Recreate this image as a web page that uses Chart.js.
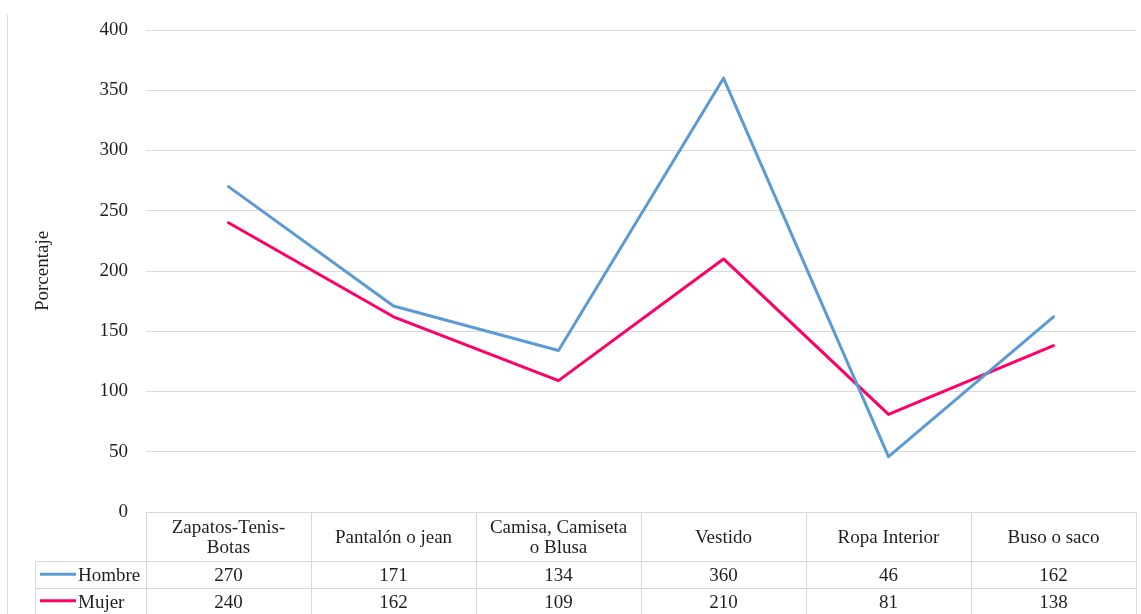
<!DOCTYPE html>
<html>
<head>
<meta charset="utf-8">
<title>Prendas por género</title>
<script src="https://cdn.jsdelivr.net/npm/chart.js@4/dist/chart.umd.min.js"></script>
<style>
  html, body { margin: 0; padding: 0; background: #fff; }
  #wrap { width: 1141px; height: 614px; }
</style>
</head>
<body>
<div id="wrap"><canvas id="chart" width="1141" height="614"></canvas></div>
<script>
// categories (multi-line labels are split with \n for the data table)
var categories = ['Zapatos-Tenis-\nBotas', 'Pantalón o jean', 'Camisa, Camiseta\no Blusa', 'Vestido', 'Ropa Interior', 'Buso o saco'];
var hombre = [270, 171, 134, 360, 46, 162];
var mujer = [240, 162, 109, 210, 81, 138];
var yTicks = [0, 50, 100, 150, 200, 250, 300, 350, 400];

var FONT = 'Liberation Serif, Times New Roman, serif';
var TEXT = '#1f1f1f';
var GRID = '#d9d9d9';
var BLUE = '#5b9bd5';
var PINK = '#ff0066';

var series = [
    { label: 'Hombre', data: hombre, color: BLUE },
    { label: 'Mujer', data: mujer, color: PINK }
];

// Excel-style data table under the plot area
var dataTable = {
    id: 'dataTable',
    afterDraw: function (chart) {
        var ctx = chart.ctx;
        var area = chart.chartArea;
        var x = chart.scales.x;
        var step = area.width / categories.length;
        var headTop = area.bottom;
        var headBottom = headTop + 49;
        var rowH = 26.5;
        var keyLeft = 35;
        var bottom = chart.height;
        var nudge = 2; // serif glyphs sit a little high with 'middle'

        ctx.save();
        ctx.strokeStyle = GRID;
        ctx.lineWidth = 1;
        ctx.beginPath();
        // outer frame line on the far left
        ctx.moveTo(7.5, 15);
        ctx.lineTo(7.5, bottom);
        // horizontal rules
        ctx.moveTo(keyLeft, Math.round(headBottom) + 0.5);
        ctx.lineTo(area.right, Math.round(headBottom) + 0.5);
        ctx.moveTo(keyLeft, Math.round(headBottom + rowH) + 0.5);
        ctx.lineTo(area.right, Math.round(headBottom + rowH) + 0.5);
        // vertical rules
        ctx.moveTo(keyLeft + 0.5, headBottom);
        ctx.lineTo(keyLeft + 0.5, bottom);
        for (var i = 0; i <= categories.length; i++) {
            var bx = Math.round(area.left + step * i) + 0.5;
            ctx.moveTo(bx, headTop);
            ctx.lineTo(bx, bottom);
        }
        ctx.stroke();

        ctx.fillStyle = TEXT;
        ctx.font = '19px ' + FONT;
        ctx.textAlign = 'center';
        ctx.textBaseline = 'middle';
        var headMid = (headTop + headBottom) / 2 + nudge;
        categories.forEach(function (cat, i) {
            var cx = x.getPixelForValue(i);
            var lines = cat.split('\n');
            var lh = 20;
            var y0 = headMid - (lines.length - 1) * lh / 2;
            lines.forEach(function (ln, j) {
                ctx.fillText(ln, cx, y0 + j * lh);
            });
        });

        series.forEach(function (s, r) {
            var cy = headBottom + rowH * r + rowH / 2;
            ctx.strokeStyle = s.color;
            ctx.lineWidth = 3;
            ctx.beginPath();
            ctx.moveTo(40, cy);
            ctx.lineTo(76, cy);
            ctx.stroke();
            ctx.textAlign = 'left';
            ctx.fillText(s.label, 78, cy + nudge);
            ctx.textAlign = 'center';
            s.data.forEach(function (v, i) {
                ctx.fillText(String(v), x.getPixelForValue(i), cy + nudge);
            });
        });
        ctx.restore();
    }
};

new Chart(document.getElementById('chart'), {
    type: 'line',
    data: {
        labels: categories.map(function (c) { return c.replace('\n', ' '); }),
        datasets: series.map(function (s) {
            return {
                label: s.label,
                data: s.data,
                borderColor: s.color,
                backgroundColor: s.color,
                borderWidth: 3,
                pointRadius: 0,
                tension: 0,
                borderJoinStyle: 'round',
                borderCapStyle: 'round'
            };
        })
    },
    options: {
        responsive: false,
        animation: false,
        layout: { padding: { top: 30, right: 5, bottom: 102, left: 0 } },
        plugins: {
            legend: { display: false },
            tooltip: { enabled: false }
        },
        scales: {
            x: {
                display: false,
                offset: true
            },
            y: {
                min: 0,
                max: 400,
                afterBuildTicks: function (scale) {
                    scale.ticks = yTicks.map(function (v) { return { value: v }; });
                },
                afterFit: function (scale) { scale.width = 146; },
                border: { display: false },
                grid: { color: GRID, drawTicks: false },
                ticks: {
                    padding: 18,
                    color: TEXT,
                    font: { family: FONT, size: 19 }
                },
                title: {
                    display: true,
                    text: 'Porcentaje',
                    color: TEXT,
                    padding: { top: 32, bottom: 0 },
                    font: { family: FONT, size: 19 }
                }
            }
        }
    },
    plugins: [dataTable]
});
</script>
</body>
</html>
